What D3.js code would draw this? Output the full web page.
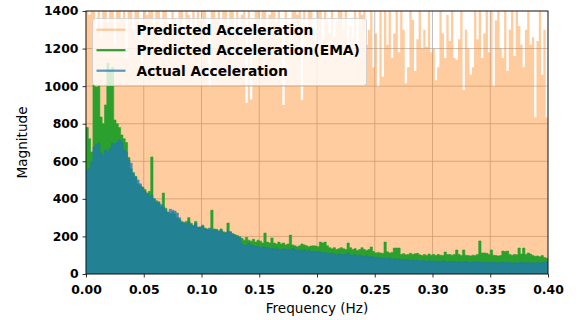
<!DOCTYPE html>
<html>
<head>
<meta charset="utf-8">
<script src="https://cdn.jsdelivr.net/npm/d3@7"></script>
<style>
  body { margin: 0; background: #fff; }
  svg { display: block; font-family: 'DejaVu Sans', sans-serif; }
</style>
</head>
<body>
<div id="chart"></div>
<script>
// spectrum peaks per 0.002 Hz bin (values above 1400 are clipped)
const binStep = 0.002;

const predicted = [
  1500, 1380, 1500, 1500, 1300, 1500, 1260, 1500, 1500, 1340,
  1500, 1500, 1220, 1500, 1500, 1360, 1500, 1150, 1500, 1500,
  1300, 1500, 1500, 1250, 1100, 1500, 1380, 1500, 1500, 1320,
  1500, 1500, 1200, 1500, 1500, 1340, 1280, 1500, 1360, 1250,
  1500, 1500, 1300, 1500, 1380, 1200, 1500, 1320, 1500, 1350,
  1500, 1500, 1300, 1000, 1500, 1500, 1360, 1500, 1280, 1500,
  1500, 1320, 1500, 1500, 1300, 1500, 1250, 1380, 1500, 910,
  1500, 930, 1340, 1500, 1500, 1280, 1500, 1500, 1250, 1380,
  1500, 1500, 1340, 1500, 1300, 900, 1500, 1340, 1200, 1500,
  1500, 1380, 1500, 926, 1500, 1320, 1500, 1500, 1300, 1200,
  1500, 1500, 1250, 1500, 1350, 1280, 1500, 1260, 1350, 1500,
  1500, 1300, 1500, 1150, 1320, 1250, 1500, 1200, 1500, 1380,
  1500, 1220, 1300, 1500, 1100, 1280, 1000, 1500, 1050, 1500,
  1220, 1500, 1150, 1280, 1500, 1180, 1500, 1300, 1016, 1100,
  1500, 1352, 1080, 1250, 1500, 1200, 1300, 1210, 1500, 1180,
  1200, 1032, 1100, 1500, 1280, 1150, 1380, 1240, 1500, 1150,
  1140, 1250, 1500, 980, 1300, 1200, 1060, 1100, 1500, 1250,
  1500, 1150, 1280, 1500, 1180, 1500, 1000, 1350, 1500, 1200,
  1150, 1500, 1080, 1300, 1500, 1160, 1500, 1320, 1220, 1100,
  1300, 1500, 1220, 1260, 835, 1240, 1500, 1060, 1300, 835
];

const predictedEma = [
  780, 720, 650, 1006, 995, 1006, 836, 800, 900, 1123,
  1080, 1100, 820, 800, 780, 740, 720, 700, 620, 560,
  540, 520, 480, 470, 460, 450, 430, 440, 623, 400,
  390, 380, 360, 431, 350, 330, 320, 330, 320, 300,
  290, 280, 270, 280, 300, 270, 260, 280, 250, 250,
  260, 245, 240, 235, 340, 240, 235, 230, 240, 225,
  220, 271, 225, 215, 210, 205, 200, 190, 180, 195,
  180, 175, 185, 170, 180, 175, 165, 218, 170, 165,
  192, 165, 160, 170, 160, 165, 155, 160, 207, 155,
  150, 145, 150, 160, 155, 150, 145, 149, 150, 149,
  145, 170, 165, 170, 150, 140, 135, 140, 130, 135,
  140, 135, 130, 165, 140, 130, 135, 125, 130, 140,
  130, 125, 130, 144, 120, 112, 115, 112, 110, 170,
  118, 112, 115, 138, 138, 138, 104, 108, 102, 104,
  110, 104, 108, 110, 102, 98, 104, 98, 106, 100,
  104, 98, 104, 100, 98, 117, 104, 104, 100, 104,
  128, 104, 98, 128, 100, 98, 96, 100, 98, 104,
  176, 112, 112, 110, 104, 128, 100, 98, 96, 98,
  122, 120, 122, 104, 100, 104, 102, 138, 106, 138,
  104, 112, 106, 98, 94, 96, 92, 98, 88, 84
];

const actual = [
  550, 560, 600, 676, 690, 697, 644, 630, 660, 650,
  670, 697, 690, 700, 713, 700, 660, 650, 607, 590,
  530, 516, 500, 480, 463, 440, 431, 410, 420, 400,
  378, 385, 370, 357, 340, 325, 345, 340, 335, 325,
  300, 271, 275, 265, 280, 260, 255, 270, 245, 250,
  255, 240, 234, 245, 234, 230, 238, 225, 232, 218,
  220, 228, 224, 210, 205, 198, 192, 160, 150, 155,
  165, 154, 150, 145, 148, 138, 142, 144, 140, 135,
  138, 132, 140, 130, 128, 135, 130, 132, 128, 138,
  130, 125, 128, 122, 130, 120, 125, 118, 122, 117,
  120, 117, 112, 115, 110, 108, 112, 105, 101, 108,
  104, 100, 106, 112, 100, 98, 104, 95, 100, 96,
  92, 98, 90, 95, 88, 90, 86, 88, 82, 85,
  80, 84, 78, 82, 76, 80, 75, 78, 74, 76,
  72, 75, 70, 74, 68, 72, 70, 66, 72, 68,
  70, 66, 68, 64, 70, 66, 62, 68, 64, 66,
  62, 66, 60, 64, 68, 62, 60, 64, 62, 66,
  60, 64, 62, 58, 62, 60, 64, 58, 62, 60,
  64, 58, 62, 60, 56, 62, 58, 60, 64, 58,
  60, 62, 58, 60, 56, 62, 58, 60, 64, 62
];

const xTicks = [0, 0.05, 0.10, 0.15, 0.20, 0.25, 0.30, 0.35, 0.40];
const yTicks = [0, 200, 400, 600, 800, 1000, 1200, 1400];

const series = [
  { name: 'Predicted Acceleration', values: predicted, color: '#ff7f0e', alpha: 0.4, edge: 0 },
  { name: 'Predicted Acceleration(EMA)', values: predictedEma, color: '#2ca02c', alpha: 1, edge: 0.6 },
  { name: 'Actual Acceleration', values: actual, color: '#1f77b4', alpha: 0.75, edge: 0.6 },
];

const W = 580, H = 320;
const m = { top: 11, right: 32, bottom: 46, left: 86 };

const x = d3.scaleLinear().domain([0, 0.4]).range([m.left, W - m.right]);
const y = d3.scaleLinear().domain([0, 1400]).range([H - m.bottom, m.top]);

const svg = d3.select('#chart').append('svg')
  .attr('width', W).attr('height', H);

svg.append('defs').append('clipPath').attr('id', 'plot-clip')
  .append('rect')
  .attr('x', m.left).attr('y', m.top)
  .attr('width', x.range()[1] - m.left)
  .attr('height', y.range()[0] - m.top);

// grid, below the data
const grid = svg.append('g').attr('stroke', '#b0b0b0').attr('stroke-width', 0.8);
grid.selectAll('.vg').data(xTicks).join('line')
  .attr('x1', d => x(d)).attr('x2', d => x(d))
  .attr('y1', m.top).attr('y2', y(0));
grid.selectAll('.hg').data(yTicks).join('line')
  .attr('x1', m.left).attr('x2', x(0.4))
  .attr('y1', d => y(d)).attr('y2', d => y(d));

// each bin spans [i*step, (i+1)*step]
const toPoints = vals => vals.map((v, i) => ({ f: i * binStep, v }))
  .concat([{ f: vals.length * binStep, v: vals[vals.length - 1] }]);

const area = d3.area()
  .curve(d3.curveStepAfter)
  .x(d => x(d.f))
  .y0(y(0))
  .y1(d => y(Math.min(d.v, 1500)));

const plot = svg.append('g').attr('clip-path', 'url(#plot-clip)');
plot.selectAll('path').data(series).join('path')
  .attr('d', d => area(toPoints(d.values)))
  .attr('fill', d => d.color)
  .attr('fill-opacity', d => d.alpha)
  .attr('stroke', d => d.edge ? d.color : 'none')
  .attr('stroke-opacity', d => d.alpha)
  .attr('stroke-width', d => d.edge);

// axes
const xAxis = svg.append('g')
  .attr('transform', `translate(0,${y(0)})`)
  .call(d3.axisBottom(x).tickValues(xTicks).tickFormat(d3.format('.2f'))
    .tickSize(3.5).tickPadding(8));
const yAxis = svg.append('g')
  .attr('transform', `translate(${m.left},0)`)
  .call(d3.axisLeft(y).tickValues(yTicks).tickFormat(d3.format('d'))
    .tickSize(3.5).tickPadding(4));

[xAxis, yAxis].forEach(g => {
  g.select('.domain').remove();
  g.selectAll('.tick line').attr('stroke', '#000').attr('stroke-width', 0.8);
  g.selectAll('.tick text')
    .attr('fill', '#000')
    .style('font-family', "'DejaVu Sans', sans-serif")
    .style('font-size', '12.4px')
    .style('font-weight', 'bold');
});

// spines
svg.append('rect')
  .attr('x', m.left).attr('y', m.top)
  .attr('width', x(0.4) - m.left).attr('height', y(0) - m.top)
  .attr('fill', 'none').attr('stroke', '#000').attr('stroke-width', 0.8);

svg.append('text')
  .attr('x', (x(0) + x(0.4)) / 2).attr('y', 313)
  .attr('text-anchor', 'middle')
  .style('font-size', '13.6px')
  .text('Frequency (Hz)');

svg.append('text')
  .attr('transform', `translate(27,${(y(0) + y(1400)) / 2}) rotate(-90)`)
  .attr('text-anchor', 'middle')
  .style('font-size', '13.6px')
  .text('Magnitude');

// legend
const legend = svg.append('g').attr('transform', 'translate(92.5,18.5)');
legend.append('rect')
  .attr('width', 274).attr('height', 67).attr('rx', 3)
  .attr('fill', '#fff').attr('fill-opacity', 0.8)
  .attr('stroke', '#cccccc').attr('stroke-opacity', 0.8);

const rows = legend.selectAll('.row').data(series).join('g')
  .attr('transform', (d, i) => `translate(0,${11.2 + i * 20.5})`);
rows.append('line')
  .attr('x1', 4).attr('x2', 33)
  .attr('stroke', d => d.color)
  .attr('stroke-opacity', d => d.alpha)
  .attr('stroke-width', 2.2);
rows.append('text')
  .attr('x', 44).attr('dy', '0.36em')
  .style('font-size', '13.8px')
  .style('font-weight', 'bold')
  .text(d => d.name);
</script>
</body>
</html>
